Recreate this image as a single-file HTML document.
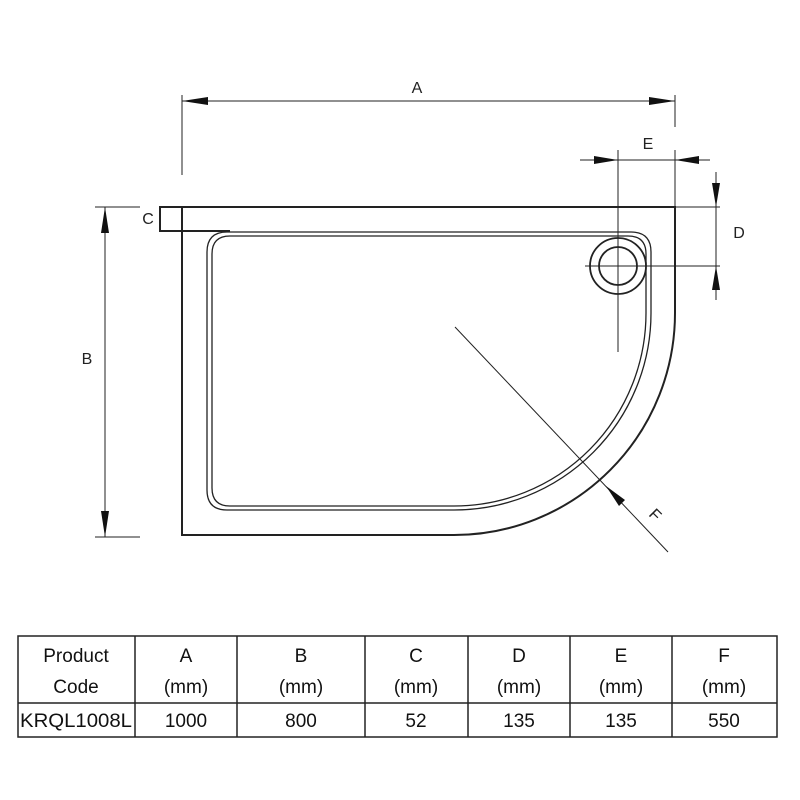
<!DOCTYPE html>
<html><head><style>body{margin:0;background:#fff}svg{display:block}</style></head><body>
<svg width="800" height="800" viewBox="0 0 800 800" xmlns="http://www.w3.org/2000/svg" font-family="Liberation Sans, sans-serif">
<g stroke="#222" fill="none">
<path d="M182,207 L675,207 L675,313 A221,222 0 0 1 454,535 L182,535 Z" stroke-width="2"/>
<path d="M207,252 Q207,232 227,232 L631,232 Q651,232 651,252 L651,313 A197,197 0 0 1 454,510 L227,510 Q207,510 207,490 Z" stroke-width="1.3"/>
<path d="M212,254 Q212,236 230,236 L628,236 Q646,236 646,254 L646,313 A192,193 0 0 1 454,506 L230,506 Q212,506 212,488 Z" stroke-width="1.3"/>
<circle cx="618" cy="266" r="28" stroke-width="1.8"/>
<circle cx="618" cy="266" r="19" stroke-width="1.8"/>
<path d="M182,207 L160,207 L160,231 L230,231" stroke-width="2"/>
<g stroke-width="1">
<line x1="182" y1="95" x2="182" y2="175"/><line x1="675" y1="95" x2="675" y2="127"/>
<line x1="182" y1="101" x2="675" y2="101"/>
<line x1="95" y1="207" x2="140" y2="207"/><line x1="95" y1="537" x2="140" y2="537"/>
<line x1="105" y1="207" x2="105" y2="537"/>
<line x1="618" y1="150" x2="618" y2="352"/><line x1="675" y1="150" x2="675" y2="207"/>
<line x1="580" y1="160" x2="710" y2="160"/>
<line x1="675" y1="207" x2="720" y2="207"/><line x1="585" y1="266" x2="720" y2="266"/>
<line x1="716" y1="172" x2="716" y2="300"/>
<line x1="455" y1="327" x2="668" y2="552"/>
</g></g>
<g fill="#111">
<polygon points="182,101 208,97 208,105"/>
<polygon points="675,101 649,97 649,105"/>
<polygon points="105,207 101,233 109,233"/>
<polygon points="105,537 101,511 109,511"/>
<polygon points="618,160 594,156 594,164"/>
<polygon points="675,160 699,156 699,164"/>
<polygon points="716,207 712,183 720,183"/>
<polygon points="716,266 712,290 720,290"/>
<polygon points="606,486 619,506 625,500"/>
</g>
<g font-size="16" fill="#222">
<text x="417" y="93" text-anchor="middle">A</text>
<text x="648" y="149" text-anchor="middle">E</text>
<text x="739" y="238" text-anchor="middle">D</text>
<text x="87" y="364" text-anchor="middle">B</text>
<text x="148" y="224" text-anchor="middle">C</text>
<text x="655" y="520" text-anchor="middle" transform="rotate(45 655 515)">F</text>
</g>
<g stroke="#222" stroke-width="1.5" fill="none">
<rect x="18" y="636" width="759" height="101"/>
<line x1="18" y1="703" x2="777" y2="703"/>
<line x1="135" y1="636" x2="135" y2="737"/><line x1="237" y1="636" x2="237" y2="737"/>
<line x1="365" y1="636" x2="365" y2="737"/><line x1="468" y1="636" x2="468" y2="737"/>
<line x1="570" y1="636" x2="570" y2="737"/><line x1="672" y1="636" x2="672" y2="737"/>
</g>
<g font-size="19" fill="#111" text-anchor="middle">
<text x="76" y="662">Product</text><text x="76" y="693">Code</text>
<text x="186" y="662">A</text><text x="186" y="693">(mm)</text>
<text x="301" y="662">B</text><text x="301" y="693">(mm)</text>
<text x="416" y="662">C</text><text x="416" y="693">(mm)</text>
<text x="519" y="662">D</text><text x="519" y="693">(mm)</text>
<text x="621" y="662">E</text><text x="621" y="693">(mm)</text>
<text x="724" y="662">F</text><text x="724" y="693">(mm)</text>
<text x="76" y="727" textLength="112" lengthAdjust="spacingAndGlyphs">KRQL1008L</text>
<text x="186" y="727">1000</text><text x="301" y="727">800</text><text x="416" y="727">52</text>
<text x="519" y="727">135</text><text x="621" y="727">135</text><text x="724" y="727">550</text>
</g>
</svg>
</body></html>
